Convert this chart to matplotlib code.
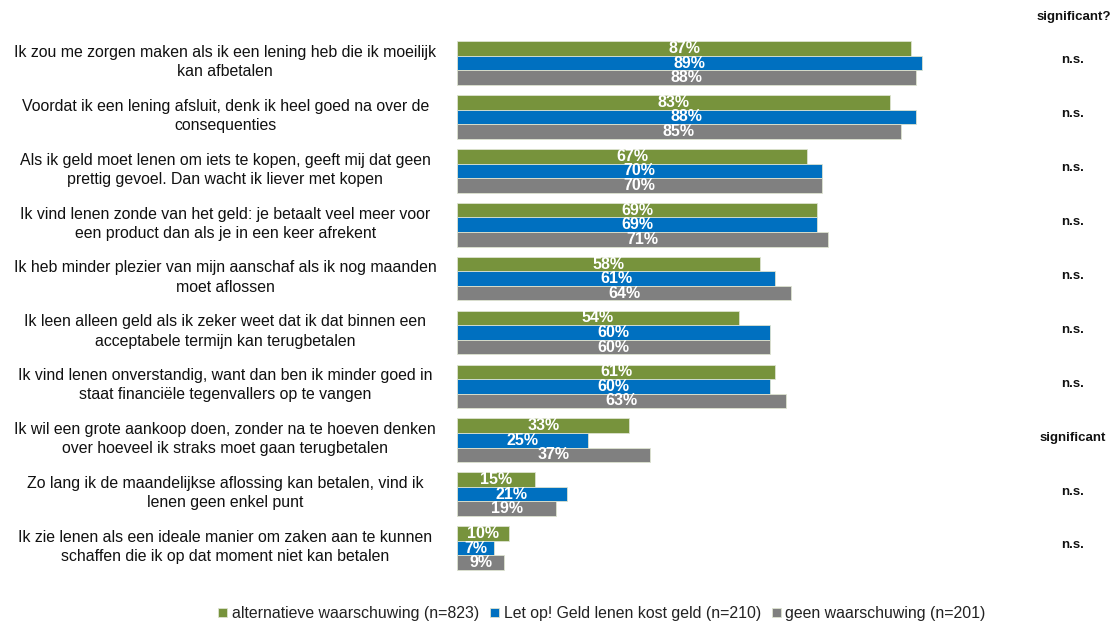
import numpy as np
import matplotlib
matplotlib.use("Agg")
import matplotlib.pyplot as plt
from matplotlib.transforms import blended_transform_factory

plt.rcParams['font.family'] = ['Liberation Sans', 'DejaVu Sans']

statements = [
    "Ik zou me zorgen maken als ik een lening heb die ik moeilijk\nkan afbetalen",
    "Voordat ik een lening afsluit, denk ik heel goed na over de\nconsequenties",
    "Als ik geld moet lenen om iets te kopen, geeft mij dat geen\nprettig gevoel. Dan wacht ik liever met kopen",
    "Ik vind lenen zonde van het geld: je betaalt veel meer voor\neen product dan als je in een keer afrekent",
    "Ik heb minder plezier van mijn aanschaf als ik nog maanden\nmoet aflossen",
    "Ik leen alleen geld als ik zeker weet dat ik dat binnen een\nacceptabele termijn kan terugbetalen",
    "Ik vind lenen onverstandig, want dan ben ik minder goed in\nstaat financiële tegenvallers op te vangen",
    "Ik wil een grote aankoop doen, zonder na te hoeven denken\nover hoeveel ik straks moet gaan terugbetalen",
    "Zo lang ik de maandelijkse aflossing kan betalen, vind ik\nlenen geen enkel punt",
    "Ik zie lenen als een ideale manier om zaken aan te kunnen\nschaffen die ik op dat moment niet kan betalen",
]
alternatief = [87, 83, 67, 69, 58, 54, 61, 33, 15, 10]
let_op = [89, 88, 70, 69, 61, 60, 60, 25, 21, 7]
geen = [88, 85, 70, 71, 64, 60, 63, 37, 19, 9]
significantie = ["n.s.", "n.s.", "n.s.", "n.s.", "n.s.", "n.s.", "n.s.",
                 "significant", "n.s.", "n.s."]

series = [
    ("alternatieve waarschuwing (n=823)", alternatief, "#77933C"),
    ("Let op! Geld lenen kost geld (n=210)", let_op, "#0070C0"),
    ("geen waarschuwing (n=201)", geen, "#808080"),
]

fig = plt.figure(figsize=(11.15, 6.23), dpi=100)
ax = fig.add_axes([0.41, 0.077, 0.468, 0.865])

y = np.arange(len(statements))
h = 0.27
for k, (naam, vals, kleur) in enumerate(series):
    pos = y + (k - 1) * h
    bars = ax.barh(pos, vals, height=h, color=kleur, edgecolor="#dde3d0",
                   linewidth=0.6, label=naam)
    for b, v in zip(bars, vals):
        ax.text(v / 2, b.get_y() + b.get_height() / 2, f"{v}%",
                ha="center", va="center", color="white", fontsize=11.5,
                fontweight="bold")

ax.set_xlim(0, 100)
ax.set_ylim(len(statements) - 0.5, -0.5)
ax.axis("off")

trans = blended_transform_factory(fig.transFigure, ax.transData)
for i, s in enumerate(statements):
    ax.text(0.202, i - 0.02, s, transform=trans, ha="center", va="center",
            fontsize=11.4, linespacing=1.35, color="#111111")
    ax.text(0.962, i - 0.05, significantie[i], transform=trans, ha="center",
            va="center", fontsize=9.5, fontweight="bold", color="#111111")

fig.text(0.963, 0.973, "significant?", ha="center", va="center",
         fontsize=9.5, fontweight="bold", color="#111111")

fig.legend(loc="center", bbox_to_anchor=(0.54, 0.015), ncol=3, frameon=False,
           fontsize=11.4, handlelength=0.55, handleheight=0.55,
           handletextpad=0.3, columnspacing=0.7, labelcolor="#222222")

fig.savefig("out.png", dpi=100)
